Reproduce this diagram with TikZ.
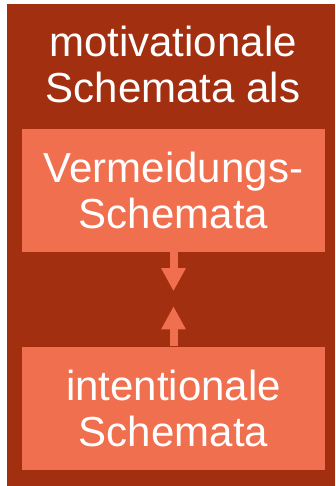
\documentclass[tikz,border=0pt]{standalone}
\usepackage{fontspec}
\setmainfont{Liberation Sans}
\usetikzlibrary{positioning,arrows.meta}

\definecolor{schemadark}{RGB}{163,47,17}
\definecolor{schemalight}{RGB}{239,111,79}

\tikzset{
	schematext/.style={text=white, align=center, inner sep=0pt, font=\fontsize{42}{46}\selectfont},
	schemabox/.style={schematext, fill=schemalight, minimum width=303pt, minimum height=123pt},
	schemaarrow/.style={draw=schemalight, line width=8pt, -{Triangle[width=23pt,length=23pt]}}
}

\begin{document}
\begin{tikzpicture}[x=1pt, y=-1pt]
	\useasboundingbox (0,0) rectangle (335,486);
	\fill[schemadark] (7,4) rectangle (335,486);

	\node[schematext] (title) at (173,64) {motivationale\\Schemata als};
	\node[schemabox] (vermeidung) at (173.5,190.5) {Vermeidungs-\\Schemata};
	\node[schemabox] (intention) at (173.5,408) {intentionale\\Schemata};

	\coordinate[below=39pt of vermeidung.south] (vtip);
	\coordinate[above=40pt of intention.north] (itip);

	\draw[schemaarrow] (vermeidung.south) -- (vtip);
	\draw[schemaarrow] (intention.north) -- (itip);
\end{tikzpicture}
\end{document}
